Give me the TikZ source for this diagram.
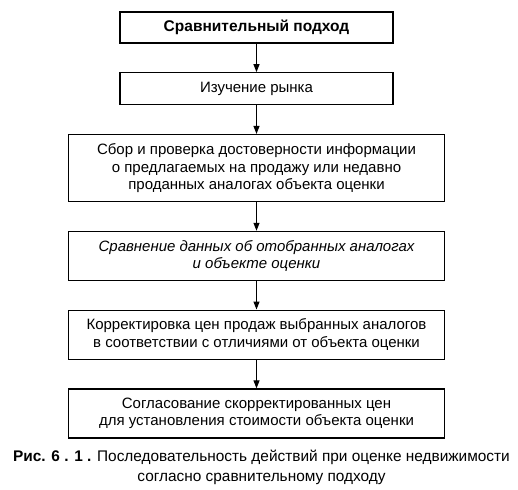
\documentclass[tikz,border=0pt]{standalone}
\usepackage{fontspec}
\setmainfont{Liberation Sans}
\usepackage{xcolor}
\usetikzlibrary{arrows.meta, positioning}

\begin{document}
\begin{tikzpicture}[
    x=1pt, y=1pt,
    node distance=28.5pt,
    box/.style={draw, rectangle, line width=1.3pt, minimum width=376pt, minimum height=49pt, align=center, inner sep=4pt,
                font=\fontsize{15}{17.5}\selectfont},
    arrow/.style={line width=1.1pt, -{Triangle[length=8pt, width=6pt]}}
]
\useasboundingbox (0,0) rectangle (518,-489);

\node[box, minimum width=273pt, minimum height=31pt, font=\fontsize{15.5}{17.5}\selectfont\bfseries] (method) at (256.5,-27.5) {Сравнительный подход};
\node[box, minimum width=273pt, minimum height=32pt, below=of method] (market) {Изучение рынка};
\node[box, minimum height=67pt, below=of market] (collect) {Сбор и проверка достоверности информации\\о предлагаемых на продажу или недавно\\проданных аналогах объекта оценки};
\node[box, below=of collect] (compare) {\itshape Сравнение данных об отобранных аналогах\\\itshape и объекте оценки};
\node[box, below=of compare] (adjust) {Корректировка цен продаж выбранных аналогов\\в соответствии с отличиями от объекта оценки};
\node[box, below=of adjust] (agree) {Согласование скорректированных цен\\для установления стоимости объекта оценки};

\draw[arrow] (method) -- (market);
\draw[arrow] (market) -- (collect);
\draw[arrow] (collect) -- (compare);
\draw[arrow] (compare) -- (adjust);
\draw[arrow] (adjust) -- (agree);

% caption under the chart
\node[below=8pt of agree, xshift=5pt, align=center, font=\fontsize{15.4}{20}\selectfont] (caption)
    {\textbf{Рис. 6 . 1 .} Последовательность действий при оценке недвижимости\\согласно сравнительному подходу};

\end{tikzpicture}
\end{document}
